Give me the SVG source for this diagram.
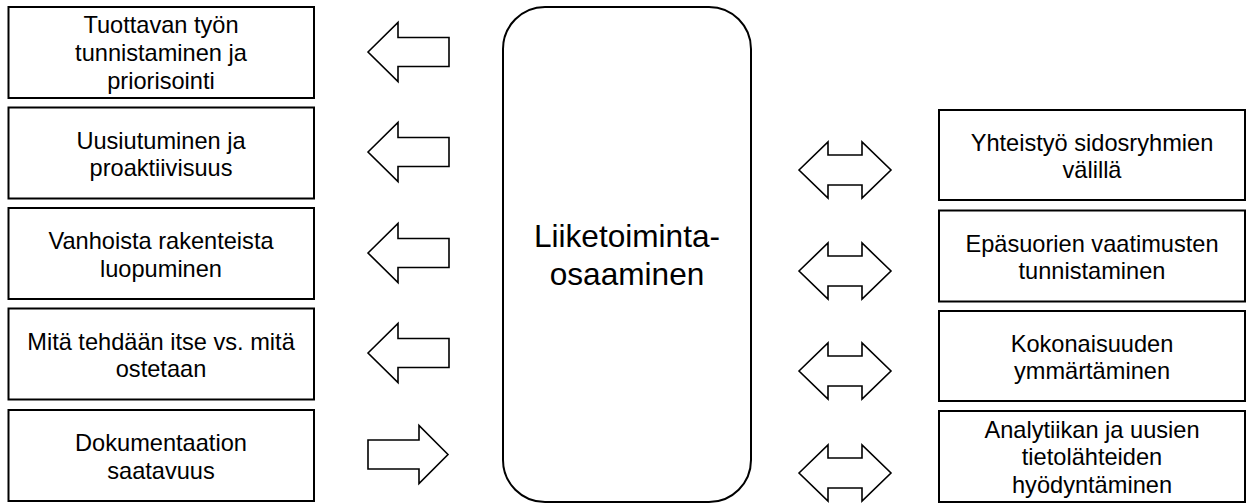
<svg xmlns="http://www.w3.org/2000/svg" width="1250" height="504" viewBox="0 0 1250 504">
<style>
.box{fill:#fff;stroke:#000;stroke-width:2}
.arr{fill:#fff;stroke:#000;stroke-width:1.6;stroke-linejoin:miter}
text{font-family:"Liberation Sans",Arial,sans-serif;font-size:23.6px;fill:#000;text-anchor:middle}
.big{font-size:31.6px}
</style>
<rect width="1250" height="504" fill="#fff"/>
<g id="left1"><rect class="box" x="8.5" y="7" width="305.5" height="91"/>
<text x="161" y="33">Tuottavan työn</text><text x="161" y="61">tunnistaminen ja</text><text x="161" y="88.5">priorisointi</text></g>
<g id="left2"><rect class="box" x="8.5" y="107.5" width="305.5" height="91"/>
<text x="161" y="148.5">Uusiutuminen ja</text><text x="161" y="176">proaktiivisuus</text></g>
<g id="left3"><rect class="box" x="8.5" y="208" width="305.5" height="91"/>
<text x="161" y="249">Vanhoista rakenteista</text><text x="161" y="276.5">luopuminen</text></g>
<g id="left4"><rect class="box" x="8.5" y="308.5" width="305.5" height="91"/>
<text x="161" y="349.5">Mitä tehdään itse vs. mitä</text><text x="161" y="377">ostetaan</text></g>
<g id="left5"><rect class="box" x="8.5" y="410" width="305.5" height="91"/>
<text x="161" y="451">Dokumentaation</text><text x="161" y="478.5">saatavuus</text></g>
<g id="center"><rect class="box" x="503" y="7" width="248" height="495" rx="42" ry="42"/>
<text class="big" x="627" y="247">Liiketoiminta-</text><text class="big" x="627" y="284.5">osaaminen</text></g>
<g id="right1"><rect class="box" x="939" y="110" width="306" height="90"/>
<text x="1092" y="150.5">Yhteistyö sidosryhmien</text><text x="1092" y="178">välillä</text></g>
<g id="right2"><rect class="box" x="939" y="210.5" width="306" height="91"/>
<text x="1092" y="251.5">Epäsuorien vaatimusten</text><text x="1092" y="279">tunnistaminen</text></g>
<g id="right3"><rect class="box" x="939" y="311" width="306" height="90"/>
<text x="1092" y="351.5">Kokonaisuuden</text><text x="1092" y="379">ymmärtäminen</text></g>
<g id="right4"><rect class="box" x="939" y="411" width="306" height="91"/>
<text x="1092" y="437.5">Analytiikan ja uusien</text><text x="1092" y="465">tietolähteiden</text><text x="1092" y="492.5">hyödyntäminen</text></g>
<g id="connectors">
<path class="arr" d="M368,52 L398,22.5 L398,37.5 L449,37.5 L449,66.5 L398,66.5 L398,81.5 Z"/>
<path class="arr" d="M368,152 L398,122.5 L398,137.5 L449,137.5 L449,166.5 L398,166.5 L398,181.5 Z"/>
<path class="arr" d="M368,253 L398,223.5 L398,238.5 L449,238.5 L449,267.5 L398,267.5 L398,282.5 Z"/>
<path class="arr" d="M368,353 L398,323.5 L398,338.5 L449,338.5 L449,367.5 L398,367.5 L398,382.5 Z"/>
<path class="arr" d="M448,454.5 L419,425.5 L419,440 L368,440 L368,469 L419,469 L419,483.5 Z"/>
<path class="arr" d="M799,170 L828,142 L828,155 L862,155 L862,142 L891,170 L862,198 L862,185 L828,185 L828,198 Z"/>
<path class="arr" d="M799,271 L828,243 L828,256 L862,256 L862,243 L891,271 L862,299 L862,286 L828,286 L828,299 Z"/>
<path class="arr" d="M799,371 L828,343 L828,356 L862,356 L862,343 L891,371 L862,399 L862,386 L828,386 L828,399 Z"/>
<path class="arr" d="M799,473 L828,445 L828,458 L862,458 L862,445 L891,473 L862,501 L862,488 L828,488 L828,501 Z"/>
</g>
</svg>
